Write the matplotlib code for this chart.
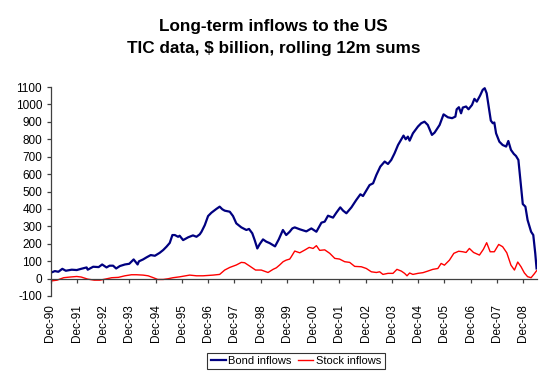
import matplotlib
matplotlib.use("Agg")
import matplotlib.pyplot as plt

plt.rcParams['font.family'] = ['Liberation Sans', 'DejaVu Sans']

# Month index: 0 = Dec-90
tick_months = [0, 12, 24, 36, 48, 60, 72, 84, 96, 108, 120, 132, 144, 156, 168, 180, 192, 204, 216]
tick_labels = ["Dec-90", "Dec-91", "Dec-92", "Dec-93", "Dec-94", "Dec-95", "Dec-96", "Dec-97",
               "Dec-98", "Dec-99", "Dec-00", "Dec-01", "Dec-02", "Dec-03", "Dec-04", "Dec-05",
               "Dec-06", "Dec-07", "Dec-08"]

bond_months = [0, 2, 3.6, 5.4, 7, 9.7, 12, 14, 16.5, 17, 19.5, 22, 23.6, 25.6, 27, 28.6, 30, 31.7,
               34, 36, 38, 39.8, 40.4, 42.3, 43.9, 45.8, 47.7, 49.9, 51.5, 53, 54.5, 55.7, 56.8,
               58.3, 59, 60.6, 62.9, 65.1, 66.7, 68.2, 69, 70.5, 72, 73.5, 75.8, 77.3, 78.5, 79.6,
               81.9, 83.4, 84.9, 87.2, 89.5, 90.7, 92.2, 93.3, 94.5, 95.6, 97.1, 98.6, 100.1,
               102.6, 104.3, 106.2, 107.7, 109.3, 110.5, 111.6, 113.9, 116.9, 119.2, 121.5,
               123.8, 125.3, 126.8, 129.1, 130.6, 132.4, 133.7, 135.2, 137.5, 139.7, 141.6,
               142.8, 144.3, 145.8, 147.4, 148.9, 150.7, 152.7, 154.2, 155.7, 157.2, 158.8,
               160.3, 161.3, 162.3, 163.3, 164.1, 165.6, 167.9, 169.4, 170.9, 172.4, 174.3,
               175.5, 177.8, 179.6, 181.6, 183.5, 185, 185.6, 186.6, 187.6, 188.4, 189.9, 191,
               192.6, 193.7, 194.8, 196.3, 197.5, 198.4, 199.3, 200.2, 201.2, 202.1, 202.8,
               203.6, 205.1, 206.6, 208.2, 209.2, 210.4, 211.7, 212.7, 213.8, 214.7, 215.8,
               217, 218, 219.6, 220.6, 221.5, 222.1]
bond_values = [33, 43, 39, 56, 45, 51, 49, 56, 64, 51, 68, 66, 81, 64, 74, 74, 58, 72,
               81, 85, 110, 81, 99, 110, 122, 135, 131, 148, 164, 183, 205, 250, 250,
               240, 246, 221, 237, 248, 240, 254, 269, 307, 359, 378, 400, 413, 398, 390,
               384, 359, 317, 294, 279, 285, 260, 221, 173, 198, 225, 212, 204,
               185, 225, 279, 250, 269, 288, 294, 283, 271, 288, 269,
               321, 327, 361, 350, 378, 409, 390, 375, 409, 451, 484,
               474, 505, 537, 547, 595, 643, 672, 658, 681, 719, 767,
               800, 821, 800, 815, 792, 834, 873, 892, 901, 882, 825,
               838, 882, 943, 926, 921, 930, 972, 984, 949, 982, 988, 972,
               997, 1032, 1016, 1051, 1084, 1093, 1064, 988, 907, 892, 896,
               834, 786, 767, 758, 790, 739, 716, 704, 681, 567, 428,
               413, 336, 269, 250, 145, 58]

stock_months = [0, 3, 6, 9, 12, 14, 17, 20, 22.6, 25, 28, 31, 34, 37, 39.3, 42.3, 44.6, 47, 49,
                51.5, 53.7, 56, 59, 63.6, 66.7, 69.7, 74.3, 77.3, 79.6, 81.9, 84.9, 87.2, 88.7,
                91, 93.7, 96.3, 99.4, 101.7, 103.2, 104.7, 106.3, 107.7, 109.3, 110, 111.6,
                113.9, 116.2, 118.2, 120, 121.5, 123, 125.3, 127.6, 129.9, 132.1, 134.4, 136.7,
                139, 142, 144.3, 146.6, 148.9, 150.4, 151.9, 154.2, 156.5, 158.3, 160.3, 161.8,
                162.9, 164.1, 165.6, 167.9, 170.2, 172.4, 174.7, 177, 178.5, 180, 182.3, 184.3,
                186.5, 188.4, 189.9, 191.4, 193.3, 196, 197.8, 199.3, 200.9, 202.8, 204.8,
                206.6, 208.5, 210.4, 212, 213.5, 215, 216.5, 218, 219.6, 221.1, 222.1]
stock_values = [-14, -9, 5, 9, 12, 9, -3, -9, -9, -3, 5, 7, 16, 22, 22, 20, 16, 5, -5,
                -5, -1, 5, 10, 20, 16, 16, 20, 24, 49, 64, 78, 93, 91,
                72, 49, 49, 35, 53, 62, 78, 97, 106, 112, 125, 158,
                148, 164, 179, 173, 189, 162, 165, 145, 116, 112, 97, 93,
                70, 68, 58, 39, 35, 39, 24, 30, 30, 53, 43, 30,
                16, 32, 24, 30, 34, 43, 53, 58, 87, 77, 106, 145,
                157, 154, 150, 173, 150, 135, 168, 206, 154, 154, 196,
                183, 148, 77, 49, 95, 68, 33, 11, 5, 28, 45]

y_ticks = list(range(-100, 1101, 100))

axis_color = '#404040'

fig = plt.figure(figsize=(5.47, 3.74), dpi=100, facecolor='white')
ax = fig.add_axes([50.5 / 547, 1 - 296 / 374, (537 - 50.5) / 547, (296 - 87) / 374])
ax.set_facecolor('white')

ax.plot(bond_months, bond_values, color='#000080', lw=1.6, label='Bond inflows',
        solid_joinstyle='round')
ax.plot(stock_months, stock_values, color='#FF0000', lw=1.0, label='Stock inflows',
        solid_joinstyle='round')

ax.set_xlim(0, 222.3)
ax.set_ylim(-100, 1100)

for s in ['top', 'right']:
    ax.spines[s].set_visible(False)
ax.spines['left'].set_color(axis_color)
ax.spines['left'].set_linewidth(0.9)
ax.spines['bottom'].set_position(('data', 0))
ax.spines['bottom'].set_color(axis_color)
ax.spines['bottom'].set_linewidth(0.9)

ax.set_yticks(y_ticks)
ax.set_yticklabels([str(v) for v in y_ticks])
ax.tick_params(axis='y', direction='out', length=3, width=0.9, color=axis_color,
               labelsize=8.5, pad=3)

ax.set_xticks(tick_months)
ax.set_xticklabels(tick_labels, rotation=90)
ax.tick_params(axis='x', direction='out', length=3, width=0.9, color=axis_color,
               labelsize=8.5, pad=15.5)

fig.text(0.50, 1 - 27 / 374, 'Long-term inflows to the US', ha='center', va='center',
         fontsize=12.3, fontweight='bold')
fig.text(0.50, 1 - 48 / 374, 'TIC data, $ billion, rolling 12m sums', ha='center',
         va='center', fontsize=12.3, fontweight='bold')

leg = fig.legend(loc='center', bbox_to_anchor=(296 / 547, 1 - 361 / 374), ncol=2,
                 fontsize=8.0, frameon=True, fancybox=False, handlelength=1.35,
                 handletextpad=0.25, columnspacing=0.6, borderpad=0.3,
                 borderaxespad=0)
leg.get_frame().set_edgecolor('black')
leg.get_frame().set_linewidth(0.8)

fig.savefig('out.png', dpi=100, facecolor='white')
